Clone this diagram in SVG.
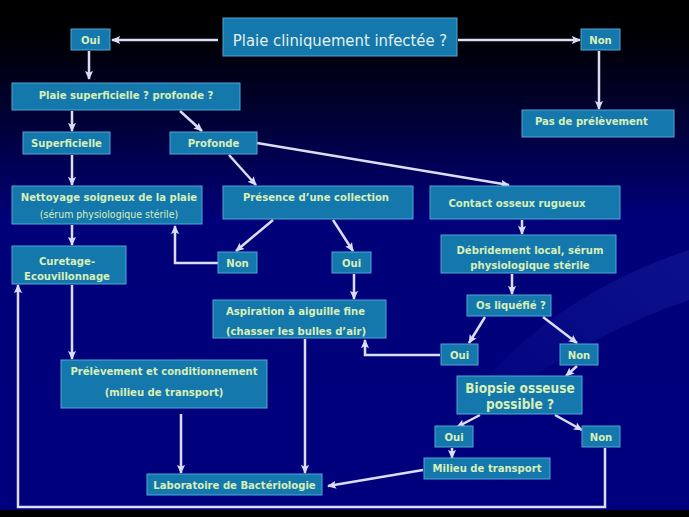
<svg xmlns="http://www.w3.org/2000/svg" width="689" height="517" viewBox="0 0 689 517">
<defs>
<linearGradient id="bg" x1="0" y1="0" x2="0" y2="1">
<stop offset="0" stop-color="#000000"/>
<stop offset="0.08" stop-color="#000005"/>
<stop offset="0.25" stop-color="#00003c"/>
<stop offset="0.42" stop-color="#000078"/>
<stop offset="1" stop-color="#00007e"/>
</linearGradient>
<linearGradient id="sw" x1="0" y1="1" x2="1" y2="0">
<stop offset="0" stop-color="#2a3ab8" stop-opacity="0"/>
<stop offset="0.6" stop-color="#2a3ab8" stop-opacity="0.18"/>
<stop offset="1" stop-color="#2a3ab8" stop-opacity="0.28"/>
</linearGradient>
<marker id="ah" viewBox="0 0 10 10" refX="9" refY="5" markerWidth="9" markerHeight="9" markerUnits="userSpaceOnUse" orient="auto">
<path d="M0,0.5 L10,5 L0,9.5 L2,5 z" fill="#dcdcf4"/>
</marker>
</defs>
<style>
.n{fill:#1578ad;stroke:#4fa6d4;stroke-width:1}
.t{font-family:"DejaVu Sans Condensed","DejaVu Sans",sans-serif;font-weight:bold;font-size:11.2px;fill:#d8efb6;text-anchor:middle}
.tl{text-anchor:start}
.s{font-weight:normal;font-size:10.5px}
.big{font-size:13.5px}
.c{fill:none;stroke:#dcdcf4;stroke-width:2.5}
.a{marker-end:url(#ah)}
</style>
<rect width="689" height="517" fill="url(#bg)"/>
<path d="M430,450 C520,380 600,330 689,300 L689,250 C600,280 510,330 430,450 z" fill="url(#sw)"/>
<rect x="0" y="510" width="689" height="7" fill="#000000"/>

<g id="connectors">
<line class="c a" x1="218" y1="40" x2="112" y2="40"/>
<line class="c a" x1="458" y1="40" x2="580" y2="40"/>
<line class="c a" x1="89" y1="51" x2="89" y2="79"/>
<line class="c a" x1="599" y1="51" x2="599" y2="109"/>
<line class="c a" x1="72" y1="111" x2="72" y2="131"/>
<line class="c a" x1="180" y1="111" x2="202" y2="131"/>
<line class="c a" x1="257" y1="143" x2="509" y2="185"/>
<line class="c a" x1="229" y1="155" x2="256" y2="185"/>
<line class="c a" x1="72" y1="155" x2="72" y2="185"/>
<line class="c a" x1="72" y1="225" x2="72" y2="245"/>
<line class="c a" x1="273" y1="220" x2="236" y2="251"/>
<line class="c a" x1="333" y1="220" x2="353" y2="251"/>
<polyline class="c a" points="218,263 175,263 175,226"/>
<line class="c a" x1="354" y1="274" x2="354" y2="299"/>
<line class="c a" x1="522" y1="220" x2="522" y2="234"/>
<line class="c a" x1="512" y1="274" x2="512" y2="294"/>
<line class="c a" x1="485" y1="317" x2="469" y2="343"/>
<line class="c a" x1="543" y1="317" x2="577" y2="343"/>
<polyline class="c a" points="440,355 365,355 365,340"/>
<line class="c a" x1="577" y1="366" x2="566" y2="376"/>
<line class="c a" x1="480" y1="415" x2="457" y2="427"/>
<line class="c a" x1="555" y1="415" x2="582" y2="430"/>
<line class="c a" x1="452" y1="448" x2="452" y2="458"/>
<line class="c a" x1="423" y1="470" x2="328" y2="486"/>
<line class="c a" x1="72" y1="285" x2="72" y2="359"/>
<line class="c a" x1="181" y1="414" x2="181" y2="473"/>
<line class="c a" x1="305" y1="339" x2="305" y2="473"/>
<polyline class="c a" points="605,448 605,507 18,507 18,285"/>
</g>

<g id="title"><rect class="n" x="223" y="18" width="234" height="38"/><text x="340" y="46" style="font-family:'DejaVu Sans Condensed','DejaVu Sans',sans-serif;font-size:16.5px;fill:#e4f0ee;text-anchor:middle">Plaie cliniquement infectée ?</text></g>
<g id="oui1"><rect class="n" x="71" y="29" width="39" height="21"/><text class="t" x="90.5" y="44">Oui</text></g>
<g id="non1"><rect class="n" x="581" y="29" width="39" height="21"/><text class="t" x="600.5" y="44">Non</text></g>
<g id="plaie-sp"><rect class="n" x="12" y="83" width="228" height="27"/><text class="t" x="126" y="99">Plaie superficielle ? profonde ?</text></g>
<g id="pas"><rect class="n" x="522" y="110" width="152" height="27"/><text class="t tl" x="535" y="125">Pas de prélèvement</text></g>
<g id="superficielle"><rect class="n" x="23" y="132" width="87" height="22"/><text class="t" x="66.5" y="147">Superficielle</text></g>
<g id="profonde"><rect class="n" x="170" y="132" width="87" height="22"/><text class="t" x="213.5" y="147">Profonde</text></g>
<g id="nettoyage"><rect class="n" x="12" y="186" width="190" height="38"/><text class="t" x="109" y="201">Nettoyage soigneux de la plaie</text><text class="t s" x="109" y="218">(sérum physiologique stérile)</text></g>
<g id="presence"><rect class="n" x="223" y="186" width="190" height="33"/><text class="t" x="316" y="201">Présence d’une collection</text></g>
<g id="contact"><rect class="n" x="430" y="186" width="190" height="33"/><text class="t" x="517" y="207">Contact osseux rugueux</text></g>
<g id="curetage"><rect class="n" x="12" y="246" width="114" height="38"/><text class="t" x="67" y="265">Curetage-</text><text class="t" x="67" y="280">Ecouvillonnage</text></g>
<g id="non2"><rect class="n" x="218" y="252" width="39" height="21"/><text class="t" x="237.5" y="267">Non</text></g>
<g id="oui2"><rect class="n" x="332" y="252" width="39" height="21"/><text class="t" x="351.5" y="267">Oui</text></g>
<g id="debridement"><rect class="n" x="441" y="235" width="175" height="38"/><text class="t" x="530" y="254">Débridement local, sérum</text><text class="t" x="530" y="269">physiologique stérile</text></g>
<g id="os"><rect class="n" x="467" y="295" width="84" height="21"/><text class="t" x="511" y="309">Os liquéfié ?</text></g>
<g id="aspiration"><rect class="n" x="213" y="300" width="173" height="38"/><text class="t tl" x="226" y="315">Aspiration à aiguille fine</text><text class="t tl" x="226" y="335">(chasser les bulles d’air)</text></g>
<g id="oui3"><rect class="n" x="441" y="344" width="37" height="21"/><text class="t" x="459.5" y="359">Oui</text></g>
<g id="non3"><rect class="n" x="560" y="344" width="38" height="21"/><text class="t" x="579" y="359">Non</text></g>
<g id="prelevement"><rect class="n" x="61" y="360" width="206" height="48"/><text class="t" x="164" y="375">Prélèvement et conditionnement</text><text class="t" x="164" y="396">(milieu de transport)</text></g>
<g id="biopsie"><rect class="n" x="457" y="376" width="125" height="38"/><text class="t big" x="520" y="393">Biopsie osseuse</text><text class="t big" x="520" y="409">possible ?</text></g>
<g id="oui4"><rect class="n" x="435" y="426" width="38" height="21"/><text class="t" x="454" y="441">Oui</text></g>
<g id="non4"><rect class="n" x="582" y="426" width="38" height="21"/><text class="t" x="601" y="441">Non</text></g>
<g id="milieu"><rect class="n" x="424" y="458" width="126" height="21"/><text class="t" x="487" y="472">Milieu de transport</text></g>
<g id="labo"><rect class="n" x="147" y="474" width="175" height="21"/><text class="t" x="234.5" y="489">Laboratoire de Bactériologie</text></g>
</svg>
